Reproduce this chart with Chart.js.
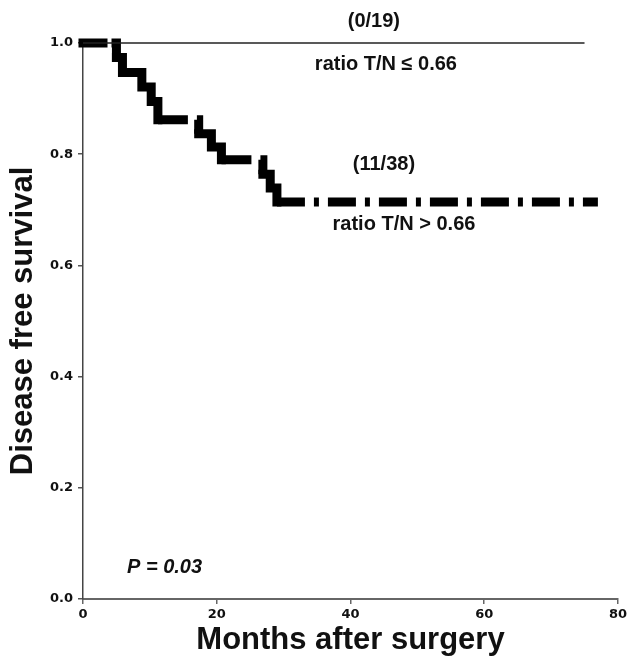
<!DOCTYPE html>
<html>
<head>
<meta charset="utf-8">
<script src="https://cdn.jsdelivr.net/npm/chart.js@4.4.1/dist/chart.umd.min.js"></script>
<style>
  body { margin: 0; background: #fff; }
  #wrap { width: 630px; height: 663px; }
</style>
</head>
<body>
<div id="wrap"><canvas id="myChart" width="630" height="663"></canvas></div>
<script>
// ratio T/N <= 0.66 (0/19) - no events
const lowMonths = [0, 75]
const lowSurvival = [1.0, 1.0]

// ratio T/N > 0.66 (11/38)
const highMonths = [0, 5.0, 5.9, 8.8, 10.2, 11.2, 17.3, 19.2, 20.7, 26.9, 28.0, 29.0, 77.0]
const highSurvival = [1.0, 0.974, 0.947, 0.921, 0.895, 0.862, 0.837, 0.813, 0.790, 0.764, 0.739, 0.714, 0.714]

const xTicks = [0, 20, 40, 60, 80]
const yTicks = [0, 0.2, 0.4, 0.6, 0.8, 1.0]

// text labels, placed in data units
const notes = [
    { text: '(0/19)', x: 43.5, y: 1.038, italic: false },
    { text: 'ratio T/N \u2264 0.66', x: 45.3, y: 0.962, italic: false },
    { text: '(11/38)', x: 45.0, y: 0.782, italic: false },
    { text: 'ratio T/N > 0.66', x: 48.0, y: 0.673, italic: false },
    { text: 'P = 0.03', x: 12.2, y: 0.056, italic: true }
]

function toPoints(xs, ys){
    let pts = []
    for(let i = 0; i < xs.length; i++){
        pts.push({ x: xs[i], y: ys[i] })
    }
    return pts
}

// dash-dot on the long tail, a single break on the middle flats,
// the small steps stay solid
function segDash(ctx){
    let span = ctx.p1.parsed.x - ctx.p0.parsed.x
    if(span > 10) return [28, 9, 5, 9]
    if(span > 5.5) return [30, 9]
    if(ctx.p0DataIndex === 0) return [20, 13]
    return []
}

function segCap(ctx){
    let span = ctx.p1.parsed.x - ctx.p0.parsed.x
    return span > 5.5 ? 'butt' : 'square'
}

const notesPlugin = {
    id: 'notes',
    afterDraw(chart){
        const c = chart.ctx
        const xs = chart.scales.x
        const ys = chart.scales.y
        c.save()
        c.fillStyle = '#111'
        c.textAlign = 'center'
        c.textBaseline = 'middle'
        for(let n of notes){
            c.font = (n.italic ? 'italic ' : '') + 'bold 20px "Liberation Sans", Arial, sans-serif'
            c.fillText(n.text, xs.getPixelForValue(n.x), ys.getPixelForValue(n.y))
        }
        c.restore()
    }
}

var ctx = document.getElementById('myChart').getContext('2d');
var chart = new Chart(ctx, {
    type: 'line',
    data: {
        datasets: [{
            label: 'ratio T/N <= 0.66',
            data: toPoints(lowMonths, lowSurvival),
            borderColor: '#222',
            borderWidth: 1.5,
            pointRadius: 0,
            clip: false,
            stepped: true
        }, {
            label: 'ratio T/N > 0.66',
            data: toPoints(highMonths, highSurvival),
            borderColor: '#000',
            borderWidth: 9,
            pointRadius: 0,
            clip: false,
            stepped: true,
            borderJoinStyle: 'miter',
            segment: {
                borderDash: segDash,
                borderCapStyle: segCap
            }
        }]
    },
    options: {
        responsive: false,
        animation: false,
        layout: { padding: { top: 43, right: 10, left: 0, bottom: 0 } },
        plugins: {
            legend: { display: false },
            tooltip: { enabled: false }
        },
        scales: {
            x: {
                type: 'linear',
                min: 0,
                max: 80,
                afterFit: s => { s.height = 64 },
                afterBuildTicks: s => { s.ticks = xTicks.map(v => ({ value: v })) },
                grid: { drawOnChartArea: false, drawTicks: true, tickLength: 5, color: '#666', lineWidth: 1.5 },
                border: { display: true, color: '#666', width: 2 },
                ticks: {
                    color: '#111',
                    padding: 3,
                    maxRotation: 0,
                    font: { family: '"DejaVu Sans", sans-serif', weight: 'bold', size: 13 }
                },
                title: {
                    display: true,
                    text: 'Months after surgery',
                    color: '#111',
                    padding: { top: 0, bottom: 4 },
                    font: { family: '"Liberation Sans", Arial, sans-serif', weight: 'bold', size: 31 }
                }
            },
            y: {
                type: 'linear',
                min: 0,
                max: 1,
                afterFit: s => { s.width = 83 },
                afterBuildTicks: s => { s.ticks = yTicks.map(v => ({ value: v })) },
                grid: { drawOnChartArea: false, drawTicks: true, tickLength: 5, color: '#555', lineWidth: 1.5 },
                border: { display: true, color: '#444', width: 1.5 },
                ticks: {
                    color: '#111',
                    padding: 5,
                    callback: v => v.toFixed(1),
                    font: { family: '"DejaVu Sans", sans-serif', weight: 'bold', size: 13 }
                },
                title: {
                    display: true,
                    text: 'Disease free survival',
                    color: '#111',
                    padding: { top: 5, bottom: 0 },
                    font: { family: '"Liberation Sans", Arial, sans-serif', weight: 'bold', size: 31 }
                }
            }
        }
    },
    plugins: [notesPlugin]
});
</script>
</body>
</html>
